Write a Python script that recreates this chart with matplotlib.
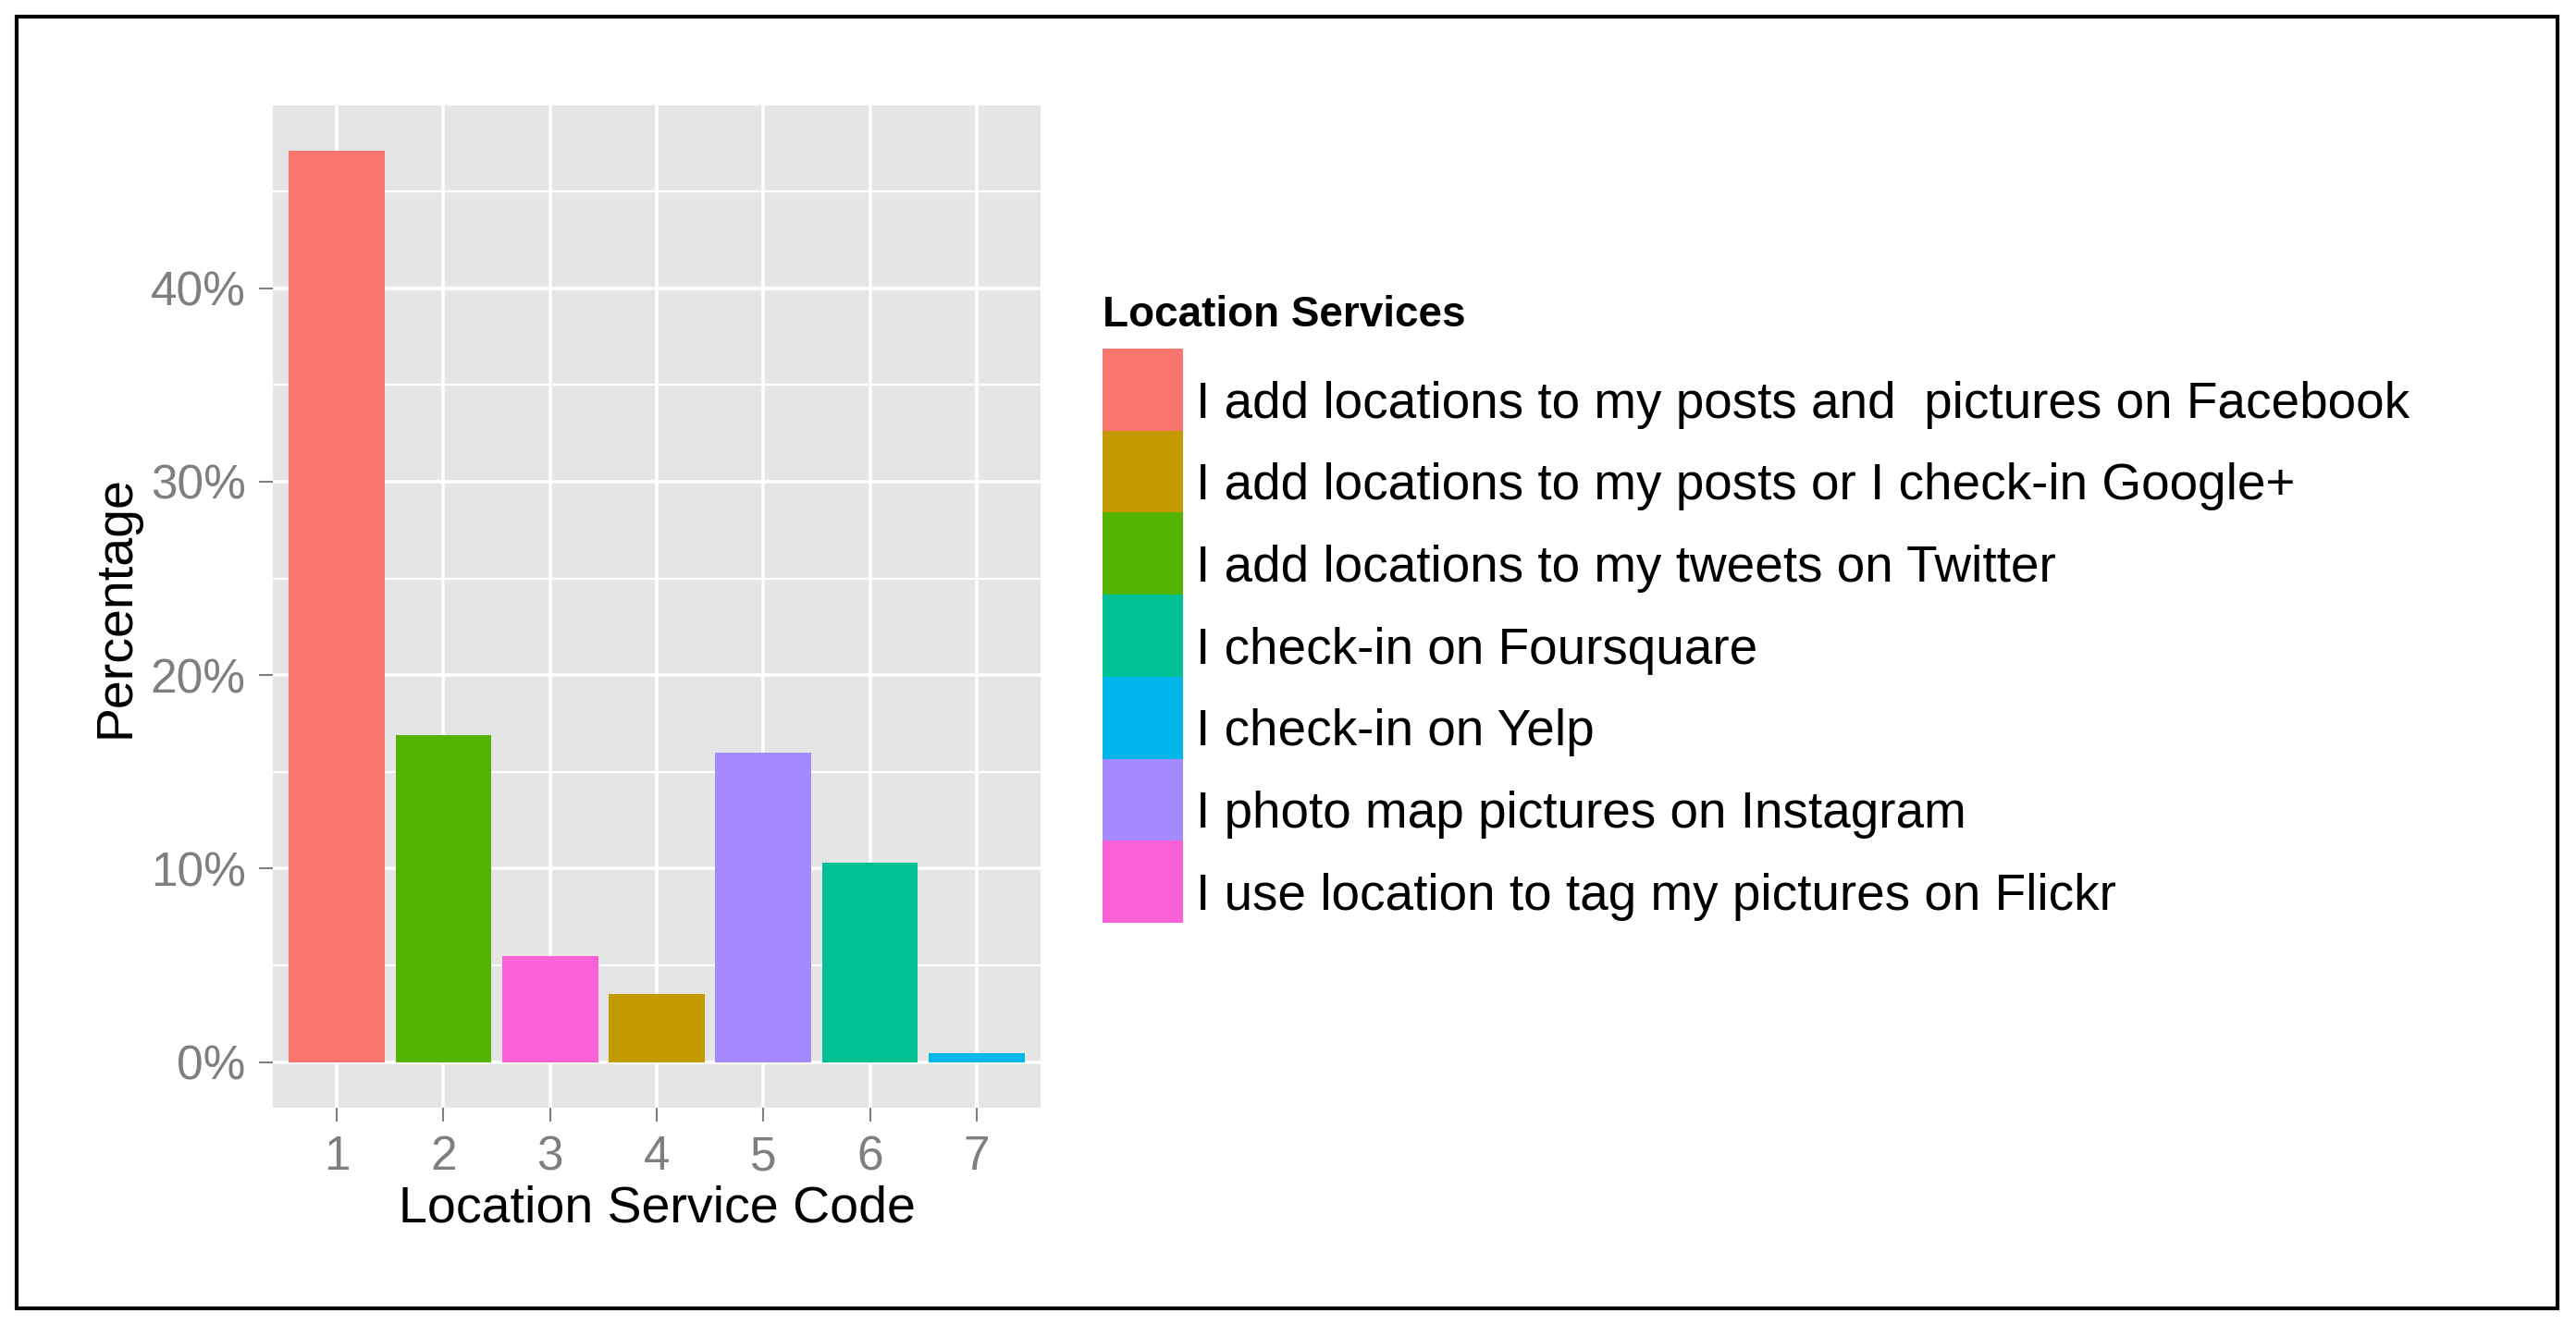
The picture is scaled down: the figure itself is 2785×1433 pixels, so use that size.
import matplotlib
matplotlib.use("Agg")
import matplotlib.pyplot as plt
from matplotlib.patches import Rectangle
from matplotlib.ticker import FuncFormatter, MultipleLocator

plt.rcParams['font.family'] = ['Liberation Sans', 'DejaVu Sans']

# data
codes = [1, 2, 3, 4, 5, 6, 7]
percent = [47.1, 16.9, 5.5, 3.5, 16.0, 10.3, 0.45]
bar_service = [0, 2, 6, 1, 5, 3, 4]   # index into services for each code

services = [
    "I add locations to my posts and  pictures on Facebook",
    "I add locations to my posts or I check-in Google+",
    "I add locations to my tweets on Twitter",
    "I check-in on Foursquare",
    "I check-in on Yelp",
    "I photo map pictures on Instagram",
    "I use location to tag my pictures on Flickr",
]
service_colors = ["#F8766D", "#C49A00", "#53B400", "#00C094",
                  "#00B6EB", "#A58AFF", "#FB61D7"]

W, H = 2785, 1433
fig = plt.figure(figsize=(W / 100, H / 100), dpi=100)

# outer frame
fig.patches.append(Rectangle((18 / W, 1 - 1415 / H), (2765 - 18) / W, (1415 - 18) / H,
                             transform=fig.transFigure, fill=False,
                             edgecolor='black', lw=3))

ax = fig.add_axes([295 / W, 1 - 1198 / H, 830 / W, 1084 / H])
ax.set_facecolor('#E5E5E5')
for s in ax.spines.values():
    s.set_visible(False)

ax.bar(codes, percent, width=0.9,
       color=[service_colors[i] for i in bar_service], zorder=3)

ax.set_xlim(0.4, 7.6)
ax.set_ylim(-2.36, 49.45)
ax.set_xticks(codes)
ax.yaxis.set_major_locator(MultipleLocator(10))
ax.yaxis.set_minor_locator(MultipleLocator(5))
ax.yaxis.set_major_formatter(FuncFormatter(lambda v, p: f"{v:.0f}%"))
ax.grid(which='major', color='white', lw=2.6, zorder=1)
ax.grid(which='minor', axis='y', color='white', lw=1.6, zorder=1)
ax.tick_params(axis='both', which='major', colors='#7F7F7F', labelsize=37,
               length=11, width=1.5, pad=10)
ax.tick_params(axis='y', which='minor', length=0)

ax.set_xlabel("Location Service Code", fontsize=40, labelpad=4)
ax.set_ylabel("Percentage", fontsize=40, labelpad=8)

# legend
lx0, lx1 = 1192, 1279
ly0, ly1 = 377, 998
kh = (ly1 - ly0) / len(services)
fig.text(lx0 / W, 1 - 341 / H, "Location Services", fontsize=33,
         fontweight='bold', va='center', ha='left')
for i, (lab, col) in enumerate(zip(services, service_colors)):
    top = ly0 + i * kh
    fig.patches.append(Rectangle((lx0 / W, 1 - (top + kh) / H), (lx1 - lx0) / W, kh / H,
                                 transform=fig.transFigure, facecolor=col,
                                 edgecolor='none'))
    fig.text(1293 / W, 1 - (top + 0.84 * kh) / H, lab, fontsize=39.5,
             va='baseline', ha='left')

fig.savefig("out.png", dpi=100, facecolor='white')
